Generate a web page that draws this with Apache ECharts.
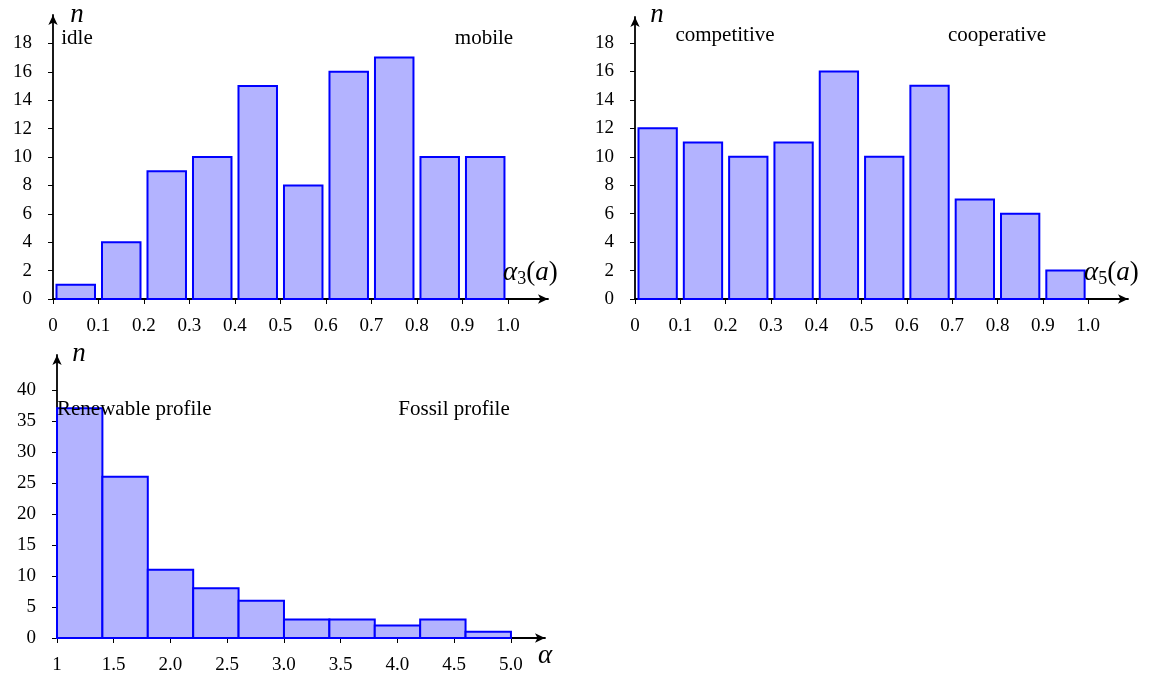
<!DOCTYPE html>
<html>
<head>
<meta charset="utf-8">
<script src="https://cdn.jsdelivr.net/npm/echarts@6/dist/echarts.min.js"></script>
<style>
html,body{margin:0;padding:0;background:#fff;}
#c{width:1165px;height:677px;}
</style>
</head>
<body>
<div id="c"></div>
<script>
// ---- data ----
const binEdgesA3 = [0, 0.1, 0.2, 0.3, 0.4, 0.5, 0.6, 0.7, 0.8, 0.9, 1.0];
const countsA3 = [1, 4, 9, 10, 15, 8, 16, 17, 10, 10];
const binEdgesA5 = [0, 0.1, 0.2, 0.3, 0.4, 0.5, 0.6, 0.7, 0.8, 0.9, 1.0];
const countsA5 = [12, 11, 10, 11, 16, 10, 15, 7, 6, 2];
const binEdgesAlpha = [1, 1.4, 1.8, 2.2, 2.6, 3.0, 3.4, 3.8, 4.2, 4.6, 5.0];
const countsAlpha = [37, 26, 11, 8, 6, 3, 3, 2, 3, 1];

const xTicksTop = [0, 0.1, 0.2, 0.3, 0.4, 0.5, 0.6, 0.7, 0.8, 0.9, 1.0];
const yTicksTop = [0, 2, 4, 6, 8, 10, 12, 14, 16, 18];
const xTicksBottom = [1, 1.5, 2.0, 2.5, 3.0, 3.5, 4.0, 4.5, 5.0];
const yTicksBottom = [0, 5, 10, 15, 20, 25, 30, 35, 40];

// ---- helpers ----
const FONT = '"Liberation Serif", "DejaVu Serif", serif';
function toBins(edges, counts) {
  return counts.map((c, i) => [edges[i], edges[i + 1], c]);
}
function fmtX(firstPlain) {
  return v => (Math.abs(v - firstPlain) < 1e-9 ? String(firstPlain) : v.toFixed(1));
}
function xAxis(idx, min, max, ticks, firstPlain) {
  return {
    type: 'value', gridIndex: idx, min: min, max: max,
    axisLine: { show: true, onZero: false, lineStyle: { color: '#000', width: 1.8 },
      symbol: ['none', 'arrow'], symbolSize: [7, 10] },
    axisTick: { show: true, inside: false, length: 5, lineStyle: { color: '#000', width: 1 },
      customValues: ticks },
    axisLabel: { show: true, margin: 18, color: '#000', fontFamily: FONT, fontSize: 19,
      customValues: ticks, formatter: fmtX(firstPlain) },
    splitLine: { show: false }
  };
}
function yAxis(idx, max, ticks) {
  return {
    type: 'value', gridIndex: idx, min: 0, max: max,
    axisLine: { show: true, onZero: false, lineStyle: { color: '#000', width: 1.8 },
      symbol: ['none', 'arrow'], symbolSize: [7, 10] },
    axisTick: { show: true, inside: false, length: 5, lineStyle: { color: '#000', width: 1 },
      customValues: ticks },
    axisLabel: { show: true, margin: 21, color: '#000', fontFamily: FONT, fontSize: 19,
      customValues: ticks, formatter: v => String(Math.round(v)) },
    splitLine: { show: false }
  };
}
function histSeries(idx, data, inset) {
  return {
    type: 'custom', xAxisIndex: idx, yAxisIndex: idx,
    data: data, encode: { x: [0, 1], y: 2 },
    renderItem: function (params, api) {
      const p0 = api.coord([api.value(0), api.value(2)]);
      const p1 = api.coord([api.value(1), 0]);
      return {
        type: 'rect',
        shape: { x: p0[0] + inset, y: p0[1], width: p1[0] - p0[0] - 2 * inset, height: p1[1] - p0[1] },
        style: { fill: '#b3b3ff', stroke: '#0000ff', lineWidth: 2 }
      };
    },
    z: 3
  };
}
function txt(x, y, text, size, align) {
  return {
    type: 'text', x: x, y: y, z: 100,
    style: { text: text, font: size + 'px ' + FONT, fill: '#000',
      textAlign: align || 'center', textVerticalAlign: 'middle' }
  };
}
function italic(x, y, text) {
  return {
    type: 'text', x: x, y: y, z: 100,
    style: { text: text, font: 'italic 27px ' + FONT, fill: '#000', textAlign: 'center', textVerticalAlign: 'middle' }
  };
}
function mathLabel(x, y, sym, sub) {
  return {
    type: 'text', x: x, y: y, z: 100,
    style: {
      text: '{it|' + sym + '}' + (sub ? '{sub|' + sub + '}' : '') + '{rm|(}{it|a}{rm|)}',
      textAlign: 'left', textVerticalAlign: 'middle', fill: '#000',
      rich: {
        it: { fontFamily: FONT, fontStyle: 'italic', fontSize: 27, fill: '#000', color: '#000' },
        rm: { fontFamily: FONT, fontSize: 27, fill: '#000', color: '#000' },
        sub: { fontFamily: FONT, fontSize: 18, fill: '#000', color: '#000', padding: [12, 0, 0, 0] }
      }
    }
  };
}

const chart = echarts.init(document.getElementById('c'), null, { renderer: 'canvas' });
chart.setOption({
  animation: false,
  backgroundColor: '#fff',
  grid: [
    { left: 53, top: 15, width: 495, height: 284 },
    { left: 635, top: 17, width: 493, height: 282 },
    { left: 57, top: 355, width: 488, height: 283 }
  ],
  xAxis: [
    xAxis(0, 0, 1.088, xTicksTop, 0),
    xAxis(1, 0, 1.088, xTicksTop, 0),
    xAxis(2, 1, 5.30, xTicksBottom, 1)
  ],
  yAxis: [
    yAxis(0, 20, yTicksTop),
    yAxis(1, 19.83, yTicksTop),
    yAxis(2, 45.6, yTicksBottom)
  ],
  series: [
    histSeries(0, toBins(binEdgesA3, countsA3), 3.5),
    histSeries(1, toBins(binEdgesA5, countsA5), 3.5),
    histSeries(2, toBins(binEdgesAlpha, countsAlpha), 0)
  ],
  graphic: [
    italic(77, 15, 'n'),
    italic(657, 15, 'n'),
    italic(79, 354, 'n'),
    mathLabel(503, 273, 'α', '3'),
    mathLabel(1084, 273, 'α', '5'),
    italic(545, 656, 'α'),
    txt(77, 38, 'idle', 21),
    txt(484, 38, 'mobile', 21),
    txt(725, 35, 'competitive', 21),
    txt(997, 35, 'cooperative', 21),
    txt(57, 409, 'Renewable profile', 21, 'left'),
    txt(454, 409, 'Fossil profile', 21)
  ]
});
</script>
</body>
</html>
